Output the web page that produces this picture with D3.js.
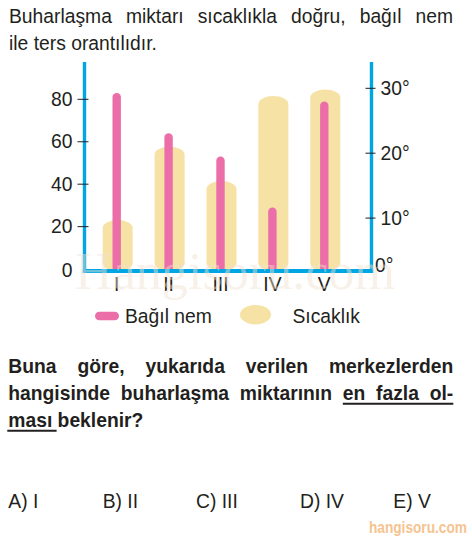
<!DOCTYPE html>
<html>
<head>
<meta charset="utf-8">
<script src="https://cdn.jsdelivr.net/npm/d3@7/dist/d3.min.js"></script>
<style>
  html, body { margin: 0; padding: 0; background: #fff; }
  svg { display: block; }
  text { font-family: "Liberation Sans", Arial, Helvetica, sans-serif; fill: #231f20; }
</style>
</head>
<body>
<svg id="chart" width="472" height="542"></svg>
<script>
// ---- data ----
const categories = ["I", "II", "III", "IV", "V"];
const humidity = [83, 64, 53, 29, 79];          // Bağıl nem (%)
const temperature = [9.7, 21, 15.7, 28.8, 29.8]; // Sıcaklık (°C)
const humidityTicks = [0, 20, 40, 60, 80];
const temperatureTicks = [10, 20, 30];
const legendLabels = ["Bağıl nem", "Sıcaklık"];
const titleLines = ["Buharlaşma miktarı sıcaklıkla doğru, bağıl nem", "ile ters orantılıdır."];
const questionLines = ["Buna göre, yukarıda verilen merkezlerden", "hangisinde buharlaşma miktarının en fazla ol-", "ması beklenir?"];
const options = ["A) I", "B) II", "C) III", "D) IV", "E) V"];

const PINK = "#ec6ea9", TAN = "#f6e2a5", BLUE = "#00a6e3", INK = "#231f20";
const FS = 19.3;

const svg = d3.select("#chart");

// ---- scales ----
const x = d3.scalePoint().domain(categories).range([116.7, 324.3]);
const yL = d3.scaleLinear().domain([0, 80]).range([269.1, 99.3]);
const yR = d3.scaleLinear().domain([0, 30]).range([283, 88.3]);
const baseY = 271;
const axL = 84.5, axR = 371.5;

// ---- text helper (word-by-word layout, optional justification) ----
function textLine(g, str, y, x0, x1, opts) {
  const words = str.split(" ");
  const nodes = words.map(w => g.append("text").attr("y", y)
      .attr("font-size", opts.size).attr("font-weight", opts.weight || "normal").text(w));
  const widths = nodes.map(n => n.node().getComputedTextLength());
  const sum = d3.sum(widths);
  const gap = (x1 != null && words.length > 1) ? (x1 - x0 - sum) / (words.length - 1) : opts.size * 0.278;
  let cx = x0;
  const pos = [];
  nodes.forEach((n, i) => { n.attr("x", cx); pos.push([cx, cx + widths[i]]); cx += widths[i] + gap; });
  return pos;
}

// ---- title ----
const tg = svg.append("g");
textLine(tg, titleLines[0], 23.3, 9, 453, {size: FS});
textLine(tg, titleLines[1], 49.8, 9, null, {size: FS});

// ---- bars ----
const tw = 30, pw = 8.4;
svg.append("g").selectAll("rect").data(temperature).join("rect")
  .attr("x", (d, i) => x(categories[i]) + 1 - tw / 2)
  .attr("width", tw)
  .attr("y", d => yR(d))
  .attr("height", d => baseY - yR(d))
  .attr("rx", tw / 2).attr("ry", 8)
  .attr("fill", TAN);

svg.append("g").selectAll("rect").data(humidity).join("rect")
  .attr("x", (d, i) => x(categories[i]) - pw / 2)
  .attr("width", pw)
  .attr("y", d => yL(d))
  .attr("height", d => baseY + 1 - yL(d))
  .attr("rx", pw / 2).attr("ry", pw / 2)
  .attr("fill", PINK);

// ---- axes ----
const ag = svg.append("g");
ag.append("line").attr("x1", axL).attr("x2", axL).attr("y1", 62).attr("y2", 273)
  .attr("stroke", BLUE).attr("stroke-width", 3.4);
ag.append("line").attr("x1", axR).attr("x2", axR).attr("y1", 62).attr("y2", 273)
  .attr("stroke", BLUE).attr("stroke-width", 3.4);
ag.append("line").attr("x1", axL - 1.7).attr("x2", axR + 1.7).attr("y1", baseY).attr("y2", baseY)
  .attr("stroke", BLUE).attr("stroke-width", 4);

// left ticks
humidityTicks.filter(t => t > 0).forEach(t => {
  ag.append("line").attr("x1", axL - 7).attr("x2", axL + 4).attr("y1", yL(t)).attr("y2", yL(t))
    .attr("stroke", INK).attr("stroke-width", 1);
});
ag.selectAll("text.yl").data(humidityTicks).join("text").attr("class", "yl")
  .attr("x", 72.5).attr("y", d => d === 0 ? 277 : yL(d) + 6.5)
  .attr("text-anchor", "end").attr("font-size", FS).text(d => d);

// right ticks
temperatureTicks.forEach(t => {
  ag.append("line").attr("x1", axR - 6).attr("x2", axR + 4).attr("y1", yR(t)).attr("y2", yR(t))
    .attr("stroke", INK).attr("stroke-width", 1);
});
ag.selectAll("text.yr").data([0].concat(temperatureTicks)).join("text").attr("class", "yr")
  .attr("x", d => d === 0 ? 375 : 380.5).attr("y", d => d === 0 ? 271.5 : yR(d) + 6.5)
  .attr("font-size", FS).text(d => d + "°");

// category labels
ag.selectAll("text.xc").data(categories).join("text").attr("class", "xc")
  .attr("x", d => x(d)).attr("y", 291).attr("text-anchor", "middle")
  .attr("font-size", FS).text(d => d);

// ---- watermark ----
svg.append("text").attr("x", 75).attr("y", 289)
  .style("font-family", "'Liberation Serif', 'Times New Roman', serif")
  .attr("font-size", 53).attr("textLength", 320).attr("lengthAdjust", "spacingAndGlyphs")
  .style("fill", "#f1e2cf").attr("opacity", 0.45).text("Hangisoru.com");

// ---- legend ----
const lg = svg.append("g");
lg.append("rect").attr("x", 95).attr("y", 311.7).attr("width", 24).attr("height", 8.6)
  .attr("rx", 4.3).attr("fill", PINK);
lg.append("text").attr("x", 125).attr("y", 323).attr("font-size", FS).text(legendLabels[0]);
lg.append("ellipse").attr("cx", 255.5).attr("cy", 314.7).attr("rx", 15.5).attr("ry", 9.7).attr("fill", TAN);
lg.append("text").attr("x", 292.5).attr("y", 323).attr("font-size", FS).text(legendLabels[1]);

// ---- question ----
const qg = svg.append("g");
textLine(qg, questionLines[0], 373, 8.3, 453.3, {size: FS, weight: "bold"});
const p2 = textLine(qg, questionLines[1], 399.8, 8.3, 453.3, {size: FS, weight: "bold"});
const p3 = textLine(qg, questionLines[2], 426.5, 8.3, null, {size: FS, weight: "bold"});
// underlines: "en fazla ol-" and "ması "
const n2 = p2.length;
qg.append("line").attr("x1", p2[n2 - 3][0]).attr("x2", p2[n2 - 1][1])
  .attr("y1", 403.8).attr("y2", 403.8).attr("stroke", INK).attr("stroke-width", 2);
qg.append("line").attr("x1", p3[0][0] - 1).attr("x2", p3[1][0] - 1)
  .attr("y1", 430.8).attr("y2", 430.8).attr("stroke", INK).attr("stroke-width", 2);

// ---- options ----
const optX = [8.3, 102.7, 196, 300, 393.3];
svg.append("g").selectAll("text").data(options).join("text")
  .attr("x", (d, i) => optX[i]).attr("y", 508).attr("font-size", FS).text(d => d);

// ---- site mark (horizontally condensed) ----
const sm = svg.append("text").attr("x", 0).attr("y", 0).attr("font-size", 17).attr("font-weight", "bold")
  .style("fill", "#f5c38f").text("hangisoru.com");
const smw = sm.node().getComputedTextLength();
sm.attr("transform", `translate(369,533) scale(${98 / smw},1)`);
</script>
</body>
</html>
